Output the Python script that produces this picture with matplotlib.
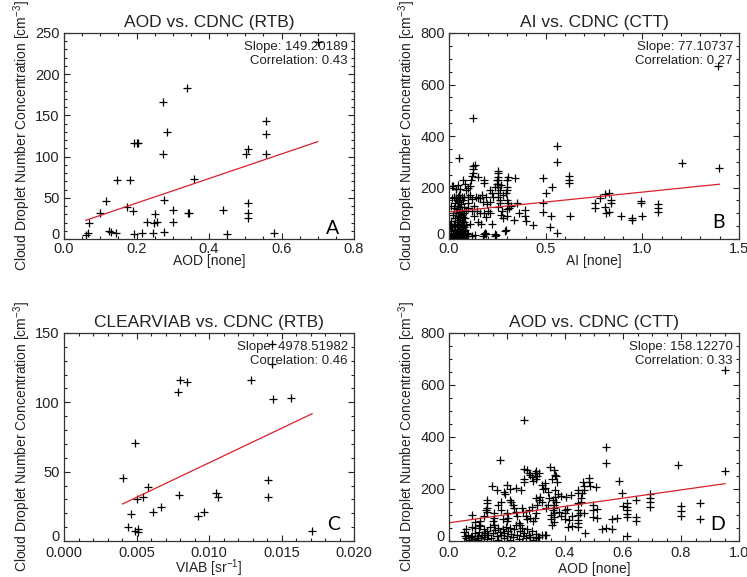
import numpy as np
import matplotlib
matplotlib.use("Agg")
import matplotlib.pyplot as plt
from matplotlib.transforms import ScaledTranslation

plt.rcParams['font.family'] = ['Liberation Sans', 'DejaVu Sans']
plt.rcParams['mathtext.default'] = 'regular'

# ---- panel A : AOD vs CDNC (RTB)
a_x = [0.061, 0.067, 0.070, 0.099, 0.116, 0.125, 0.130, 0.143, 0.147, 0.175,
       0.183, 0.189, 0.192, 0.193, 0.200, 0.203, 0.214, 0.228, 0.246, 0.249,
       0.251, 0.256, 0.272, 0.274, 0.277, 0.277, 0.283, 0.300, 0.300, 0.338,
       0.341, 0.344, 0.359, 0.439, 0.450, 0.501, 0.507, 0.508, 0.508, 0.507,
       0.557, 0.557, 0.557, 0.580, 0.700]
a_y = [5, 7, 19, 32, 46, 10, 8.5, 7, 71, 39,
       71, 34, 116, 6.5, 116, 116, 7, 21, 7, 19,
       30, 21, 103, 166, 47, 8.5, 130, 35, 21, 183,
       32, 32, 73, 35, 6.5, 103, 109, 44, 32, 25,
       143, 128, 103, 7, 239]

# ---- panel B : AI vs CDNC (CTT)
b_x = [0.122, 0.053, 1.393, 1.207, 1.398, 0.557, 0.560, 0.560, 0.622, 0.622,
       0.622, 0.626, 0.484, 0.531, 0.502, 0.484, 0.484, 0.528, 0.524, 0.436,
       0.400, 0.391, 0.395, 0.343, 0.338, 0.290, 0.295, 0.238, 0.186, 0.134,
       0.755, 0.755, 0.781, 0.807, 0.809, 0.812, 0.828, 0.836, 0.836, 0.828,
       0.888, 0.945, 0.945, 0.993, 0.993, 0.997, 1.083, 1.083, 1.083,
       0.180, 0.190, 0.240, 0.245,
       0.125, 0.125, 0.122, 0.134, 0.152, 0.117, 0.114, 0.074, 0.083, 0.183,
       0.183, 0.255, 0.255, 0.252, 0.255, 0.255, 0.255, 0.246, 0.246, 0.240,
       0.307, 0.298, 0.300, 0.300, 0.293, 0.255, 0.255, 0.262, 0.262, 0.255,
       0.220, 0.210, 0.210, 0.170, 0.175, 0.195, 0.160, 0.140, 0.145, 0.160,
       0.180, 0.190, 0.200, 0.210, 0.220, 0.270, 0.275, 0.280, 0.300, 0.305,
       0.310, 0.300, 0.320, 0.300, 0.265, 0.270, 0.280, 0.150, 0.165, 0.120,
       0.130, 0.110, 0.100, 0.100, 0.120, 0.130, 0.110, 0.120, 0.175, 0.150,
       0.230, 0.190, 0.350, 0.360,
       0.000, 0.000, 0.000, 0.005, 0.005, 0.010, 0.010, 0.010, 0.012, 0.015,
       0.015, 0.015, 0.020, 0.020, 0.020, 0.020, 0.025, 0.025, 0.025, 0.025,
       0.030, 0.030, 0.030, 0.030, 0.030, 0.035, 0.035, 0.035, 0.035, 0.040,
       0.040, 0.040, 0.040, 0.040, 0.040, 0.045, 0.045, 0.045, 0.045, 0.045,
       0.048, 0.050, 0.050, 0.050, 0.050, 0.050, 0.050, 0.055, 0.055, 0.055,
       0.055, 0.055, 0.057, 0.060, 0.060, 0.060, 0.060, 0.060, 0.065, 0.065,
       0.065, 0.065, 0.065, 0.070, 0.070, 0.070, 0.070, 0.075, 0.075, 0.075,
       0.075, 0.080, 0.080, 0.080, 0.080, 0.085, 0.085, 0.085, 0.090, 0.090,
       0.090, 0.095, 0.100, 0.100, 0.036, 0.014, 0.090, 0.100, 0.110]
b_y = [469, 314, 670, 294, 277, 363, 298, 22, 245, 230,
       217, 89, 236, 201, 178, 139, 106, 89, 48, 54,
       71, 113, 89, 236, 74, 30, 35, 19, 25, 16,
       141, 119, 158, 174, 126, 100, 178, 152, 139, 106,
       89, 80, 74, 149, 139, 89, 136, 119, 104,
       20, 18, 12, 15,
       283, 270, 255, 287, 240, 245, 231, 230, 215, 231,
       218, 265, 255, 241, 228, 215, 203, 228, 215, 203,
       241, 228, 203, 190, 177, 177, 164, 151, 138, 125,
       177, 190, 144, 170, 144, 135, 160, 165, 110, 100,
       100, 85, 110, 100, 60, 95, 110, 80, 150, 140,
       120, 115, 128, 90, 190, 210, 170, 65, 60, 155,
       130, 170, 140, 120, 110, 90, 60, 12, 12, 160,
       165, 165, 140, 100,
       10, 25, 40, 5, 55, 15, 30, 70, 130, 0,
       45, 160, 8, 20, 95, 205, 35, 60, 120, 165,
       5, 15, 50, 80, 140, 25, 100, 160, 195, 0,
       10, 40, 65, 115, 150, 20, 55, 90, 130, 165,
       210, 5, 30, 75, 105, 145, 170, 15, 45, 85,
       125, 160, 193, 0, 25, 60, 95, 135, 10, 40,
       70, 110, 165, 20, 50, 85, 150, 5, 30, 65,
       100, 15, 45, 125, 165, 0, 35, 80, 10, 55,
       110, 25, 20, 165, 193, 206, 190, 200, 205]

# ---- panel C : CLEARVIAB vs CDNC (RTB)
c_x = [0.00404, 0.00439, 0.00459, 0.00489, 0.00489, 0.00500, 0.00512, 0.00512,
       0.00546, 0.00581, 0.00611, 0.00666, 0.00783, 0.00794, 0.00799, 0.00845,
       0.00921, 0.00967, 0.01050, 0.01063, 0.01293, 0.01408, 0.01408, 0.01437,
       0.01437, 0.01442, 0.01568, 0.01711]
c_y = [45.3, 10.4, 19.5, 70.5, 7.5, 30, 8.4, 6.3,
       32, 38.8, 21, 24.8, 107.4, 33, 115.8, 114.6,
       18.3, 20.7, 34.4, 32, 116.3, 44, 32, 142,
       128, 102.3, 103, 7.5]

# ---- panel D : AOD vs CDNC (CTT)
d_x = [0.050, 0.055, 0.060, 0.060, 0.065, 0.070, 0.075, 0.080, 0.080, 0.085,
       0.090, 0.090, 0.095, 0.100, 0.100, 0.105, 0.105, 0.110, 0.115, 0.120,
       0.120, 0.125, 0.130, 0.130, 0.135, 0.140, 0.145, 0.150, 0.155, 0.160,
       0.165, 0.170, 0.170, 0.175, 0.180, 0.185, 0.190, 0.190, 0.195, 0.200,
       0.205, 0.210, 0.210, 0.215, 0.220, 0.225, 0.230, 0.235, 0.240, 0.245,
       0.250, 0.255, 0.260, 0.265, 0.270, 0.275, 0.280, 0.285, 0.290, 0.300,
       0.310, 0.320, 0.330, 0.335, 0.308, 0.300,
       0.078, 0.090, 0.107, 0.107, 0.120, 0.130, 0.130, 0.130, 0.128, 0.132,
       0.147, 0.155, 0.155, 0.150, 0.155, 0.164, 0.170, 0.180, 0.180, 0.185,
       0.191, 0.193, 0.200, 0.205, 0.200, 0.210, 0.215, 0.220, 0.225, 0.230,
       0.235, 0.240, 0.245, 0.248, 0.250, 0.255, 0.260, 0.260, 0.265, 0.270,
       0.275, 0.280, 0.285, 0.290, 0.295, 0.300, 0.300, 0.305, 0.310, 0.315,
       0.320, 0.325, 0.330, 0.335, 0.340, 0.345, 0.350, 0.352, 0.355, 0.360,
       0.362, 0.362, 0.362, 0.362, 0.362, 0.360, 0.370, 0.375, 0.380, 0.385,
       0.260, 0.270, 0.275, 0.280, 0.285, 0.290, 0.295, 0.300, 0.305, 0.310,
       0.300, 0.320, 0.330, 0.348, 0.355, 0.362, 0.365, 0.370, 0.371, 0.366,
       0.366, 0.340, 0.200, 0.210, 0.230,
       0.386, 0.400, 0.400, 0.400, 0.402, 0.408, 0.419, 0.410, 0.415, 0.425,
       0.425, 0.446, 0.446, 0.446, 0.446, 0.446, 0.446, 0.446, 0.446, 0.452,
       0.455, 0.455, 0.458, 0.462, 0.467, 0.467, 0.466, 0.470, 0.484, 0.484,
       0.486, 0.495, 0.495, 0.495, 0.506, 0.510, 0.510, 0.527, 0.540, 0.541,
       0.541, 0.563, 0.563, 0.578, 0.587, 0.598, 0.600, 0.613, 0.613, 0.613,
       0.613, 0.613, 0.615, 0.644, 0.644, 0.644, 0.693, 0.693, 0.693, 0.693,
       0.791, 0.800, 0.800, 0.800, 0.864, 0.864, 0.952, 0.952, 0.260, 0.176]
d_y = [35, 20, 10, 45, 25, 5, 15, 55, 20, 8,
       30, 50, 12, 20, 5, 60, 35, 10, 25, 45,
       15, 30, 8, 40, 22, 55, 12, 30, 60, 42,
       18, 50, 5, 35, 25, 45, 10, 30, 55, 20,
       40, 5, 50, 28, 15, 45, 60, 25, 8, 38,
       50, 20, 32, 10, 45, 25, 15, 40, 5, 28,
       15, 22, 23, 23, 17, 12,
       101, 75, 76, 58, 95, 158, 145, 128, 119, 113,
       212, 107, 88, 76, 63, 196, 138, 151, 120, 85,
       190, 181, 107, 88, 76, 158, 151, 138, 126, 113,
       95, 70, 63, 196, 126, 113, 240, 227, 95, 83,
       119, 88, 132, 76, 88, 107, 164, 138, 158, 171,
       151, 200, 205, 126, 138, 164, 101, 83, 63, 158,
       138, 127, 108, 92, 73, 120, 150, 180, 110, 95,
       276, 273, 263, 254, 245, 232, 260, 270, 250, 262,
       240, 215, 225, 286, 240, 273, 254, 250, 228, 196,
       170, 190, 215, 200, 205,
       173, 119, 108, 83, 170, 125, 176, 55, 81, 96,
       58, 196, 184, 145, 119, 100, 81, 68, 53, 106,
       164, 150, 183, 226, 212, 196, 108, 30, 241, 228,
       212, 139, 120, 94, 208, 122, 87, 46, 49, 361,
       299, 83, 46, 87, 232, 184, 134, 148, 132, 119,
       105, 94, 19, 158, 94, 78, 181, 164, 149, 132,
       293, 136, 117, 98, 148, 86, 659, 271, 466, 312]

# fit lines: slope, intercept, x-range
slopes = [149.20189, 77.10737, 4978.51982, 158.12270]
intercepts = [13.7, 105.0, 6.6, 70.0]
fit_ranges = [[0.06, 0.70], [0.0, 1.398], [0.00404, 0.01711], [0.0, 0.952]]
correlations = ["0.43", "0.27", "0.46", "0.33"]

titles = ["AOD vs. CDNC (RTB)", "AI vs. CDNC (CTT)",
          "CLEARVIAB vs. CDNC (RTB)", "AOD vs. CDNC (CTT)"]
xlabels = ["AOD [none]", "AI [none]", "VIAB [sr$^{-1}$]", "AOD [none]"]
letters = ["A", "B", "C", "D"]
ylabel = "Cloud Droplet Number Concentration [cm$^{-3}$]"

W, H = 747, 577
fig = plt.figure(figsize=(W / 100, H / 100), dpi=100)
txt = '#222222'


def make_panel(box, xs, ys, k, xticks, yticks, xmin_step, ymin_step, xfmt,
               tick_y, lab_y, let_y):
    l, t, r, b = box
    ax = fig.add_axes([l / W, 1 - b / H, (r - l) / W, (b - t) / H])
    ax.plot(xs, ys, linestyle='none', marker='+', ms=5.5, mew=0.9, color='black')
    fx = np.array(fit_ranges[k])
    ax.plot(fx, intercepts[k] + slopes[k] * fx, color='#d8202a', lw=0.9)

    ax.set_xlim(xticks[0], xticks[-1])
    ax.set_ylim(yticks[0], yticks[-1])
    ax.set_xticks(xticks)
    ax.set_xticklabels([xfmt % v for v in xticks])
    ax.set_yticks(yticks)
    ax.set_yticklabels(["%d" % v for v in yticks])
    ax.set_xticks(np.arange(xticks[0], xticks[-1] + 1e-9, xmin_step), minor=True)
    ax.set_yticks(np.arange(yticks[0], yticks[-1] + 1e-9, ymin_step), minor=True)
    ax.tick_params(which='both', direction='in', top=True, right=True,
                   width=0.8, colors=txt, labelsize=10.5)
    ax.tick_params(which='major', length=4.5)
    ax.tick_params(which='minor', length=2.2)
    ax.tick_params(axis='x', which='major', pad=tick_y)
    ax.tick_params(axis='y', which='major', pad=3)
    for s in ax.spines.values():
        s.set_linewidth(0.9)
        s.set_color('#333333')

    # IDL nudges the zero label up off the x axis
    zl = ax.get_yticklabels()[0]
    zl.set_transform(zl.get_transform() + ScaledTranslation(0, 4 / 72, fig.dpi_scale_trans))

    ax.set_title(titles[k], fontsize=12.5, color=txt, pad=4)
    ax.set_xlabel(xlabels[k], fontsize=10, color=txt)
    ax.xaxis.set_label_coords(0.5, lab_y)
    ax.xaxis.label.set_va('baseline')
    ax.set_ylabel(ylabel, fontsize=10, color=txt)
    ax.yaxis.set_label_coords(-0.143, 0.5)
    ax.yaxis.label.set_va('center')

    ax.text(0.979, 0.917, "Slope: %.5f" % slopes[k], transform=ax.transAxes,
            ha='right', va='baseline', fontsize=9.5, color=txt)
    ax.text(0.979, 0.85, "Correlation: " + correlations[k], transform=ax.transAxes,
            ha='right', va='baseline', fontsize=9.5, color=txt)
    ax.text(0.95, let_y, letters[k], transform=ax.transAxes, ha='right',
            va='bottom', fontsize=14, color='black', family=['Lato', 'DejaVu Sans'])
    return ax


make_panel((64, 33, 354, 239), a_x, a_y, 0, [0.0, 0.2, 0.4, 0.6, 0.8],
           [0, 50, 100, 150, 200, 250], 0.05, 10, "%.1f", 2.5, -0.127, 0.01)
make_panel((449, 33, 739, 239), b_x, b_y, 1, [0.0, 0.5, 1.0, 1.5],
           [0, 200, 400, 600, 800], 0.1, 50, "%.1f", 2.5, -0.127, 0.04)
make_panel((64, 333, 354, 541), c_x, c_y, 2, [0.0, 0.005, 0.010, 0.015, 0.020],
           [0, 50, 100, 150], 0.001, 10, "%.3f", 3.5, -0.153, 0.04)
make_panel((449, 333, 739, 541), d_x, d_y, 3, [0.0, 0.2, 0.4, 0.6, 0.8, 1.0],
           [0, 200, 400, 600, 800], 0.05, 50, "%.1f", 3.5, -0.153, 0.04)

fig.savefig("out.png", dpi=100)
